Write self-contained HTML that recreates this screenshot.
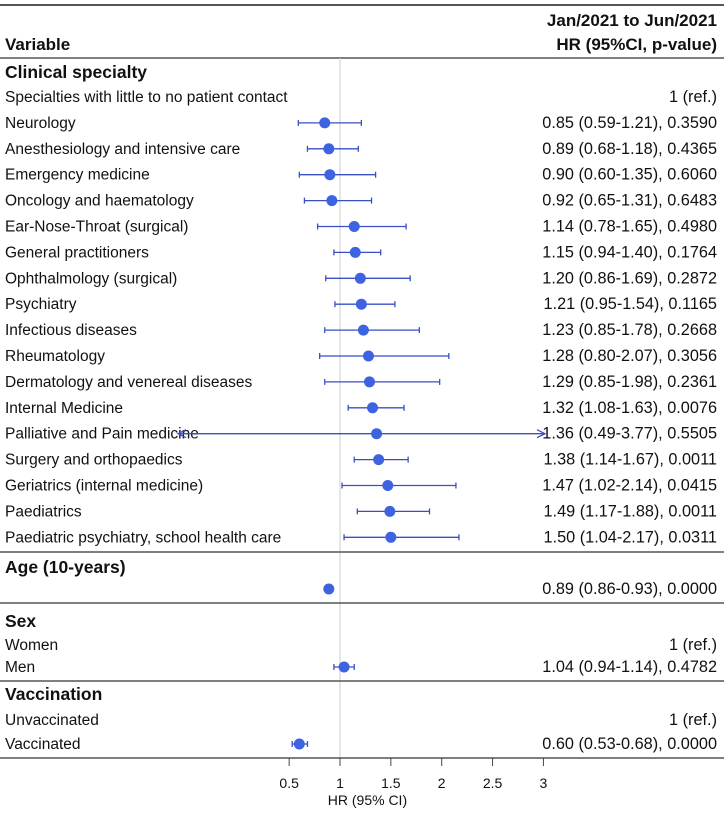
<!DOCTYPE html>
<html><head><meta charset="utf-8"><style>
body{margin:0;background:#fff;}
svg text{font-family:"Liberation Sans",Arial,sans-serif;fill:#111;}
</style></head><body>
<svg id="c" width="724" height="813" xmlns="http://www.w3.org/2000/svg">
<line x1="0" y1="5" x2="724" y2="5" stroke="#555" stroke-width="2"/>
<text x="717" y="26" font-size="17" font-weight="bold" text-anchor="end">Jan/2021 to Jun/2021</text>
<text x="5" y="50" font-size="17" font-weight="bold">Variable</text>
<text x="717" y="50" font-size="17" font-weight="bold" text-anchor="end">HR (95%CI, p-value)</text>
<line x1="0" y1="58" x2="724" y2="58" stroke="#555" stroke-width="1.5"/>
<g id="g"></g>
</svg>
<script>
const labels=["Specialties with little to no patient contact","Neurology","Anesthesiology and intensive care","Emergency medicine","Oncology and haematology","Ear-Nose-Throat (surgical)","General practitioners","Ophthalmology (surgical)","Psychiatry","Infectious diseases","Rheumatology","Dermatology and venereal diseases","Internal Medicine","Palliative and Pain medicine","Surgery and orthopaedics","Geriatrics (internal medicine)","Paediatrics","Paediatric psychiatry, school health care","","Women","Men","Unvaccinated","Vaccinated"];
const hr=[null,0.85,0.89,0.90,0.92,1.14,1.15,1.20,1.21,1.23,1.28,1.29,1.32,1.36,1.38,1.47,1.49,1.50,0.89,null,1.04,null,0.60];
const lo=[null,0.59,0.68,0.60,0.65,0.78,0.94,0.86,0.95,0.85,0.80,0.85,1.08,0.49,1.14,1.02,1.17,1.04,0.86,null,0.94,null,0.53];
const hi=[null,1.21,1.18,1.35,1.31,1.65,1.40,1.69,1.54,1.78,2.07,1.98,1.63,3.77,1.67,2.14,1.88,2.17,0.93,null,1.14,null,0.68];
const pv=["","0.3590","0.4365","0.6060","0.6483","0.4980","0.1764","0.2872","0.1165","0.2668","0.3056","0.2361","0.0076","0.5505","0.0011","0.0415","0.0011","0.0311","0.0000","","0.4782","","0.0000"];
const ticks=[0.5,1,1.5,2,2.5,3];
const groups=["Clinical specialty","Age (10-years)","Sex","Vaccination"];
const NS="http://www.w3.org/2000/svg";
const g=document.getElementById('g');
const x=v=>340+(v-1)*101.7;
const xmin=178,xmax=545;
function mk(t,a,p){const e=document.createElementNS(NS,t);for(const k in a)e.setAttribute(k,a[k]);(p||g).appendChild(e);return e;}
const rowY=[];
for(let i=0;i<18;i++)rowY.push(97+i*25.9);
rowY.push(589,645,667,720,744);
const groupY=[72,567,621,694];
const sepY=[552,603,681,758];
const rl=mk('line',{x1:x(1),y1:58,x2:x(1),y2:758,stroke:'#ccc','stroke-width':1});


groups.forEach((s,i)=>{const t=mk('text',{x:5,y:groupY[i]+6,'font-size':17.5,'font-weight':'bold'});t.textContent=s;

});
sepY.forEach((y)=>{const l=mk('line',{x1:0,y1:y,x2:724,y2:y,stroke:'#555','stroke-width':1.5});

});
labels.forEach((s,i)=>{
 const y=rowY[i];
 if(s){const t=mk('text',{x:5,y:y+5,'font-size':15.5});t.textContent=s;
 
 }
 const r=mk('text',{x:717,y:y+5,'font-size':16.3,'text-anchor':'end'});
 r.textContent=hr[i]==null?"1 (ref.)":hr[i].toFixed(2)+" ("+lo[i].toFixed(2)+"-"+hi[i].toFixed(2)+"), "+pv[i];
 
 
 if(hr[i]==null)return;
 const clipL=lo[i]<ticks[0], clipR=hi[i]>ticks[ticks.length-1];
 const a=clipL?xmin:x(lo[i]), b=clipR?xmax:x(hi[i]);
 const c='#3a4fc4';
 const l=mk('line',{x1:a,y1:y,x2:b,y2:y,stroke:c,'stroke-width':1.3});
 
 
 if(clipL){const p=mk('path',{d:`M${a+8},${y-4}L${a},${y}L${a+8},${y+4}`,fill:'none',stroke:c,'stroke-width':1.3});
 
 }
 else{const p=mk('line',{x1:a,y1:y-3,x2:a,y2:y+3,stroke:c,'stroke-width':1.3});
 
 }
 if(clipR){const p=mk('path',{d:`M${b-8},${y-4}L${b},${y}L${b-8},${y+4}`,fill:'none',stroke:c,'stroke-width':1.3});
 
 }
 else{const p=mk('line',{x1:b,y1:y-3,x2:b,y2:y+3,stroke:c,'stroke-width':1.3});
 
 }
 const d=mk('circle',{cx:x(hr[i]),cy:y,r:5.5,fill:'#3d63e0'});
 
 
});
ticks.forEach(v=>{
 const l=mk('line',{x1:x(v),y1:758,x2:x(v),y2:766,stroke:'#444','stroke-width':1});
 
 
 const t=mk('text',{x:x(v),y:788,'font-size':14,'text-anchor':'middle'});t.textContent=String(v);
 
 
});
const xt=mk('text',{x:x(1.27),y:805,'font-size':14,'text-anchor':'middle'});xt.textContent="HR (95% CI)";


</script>
</body></html>
